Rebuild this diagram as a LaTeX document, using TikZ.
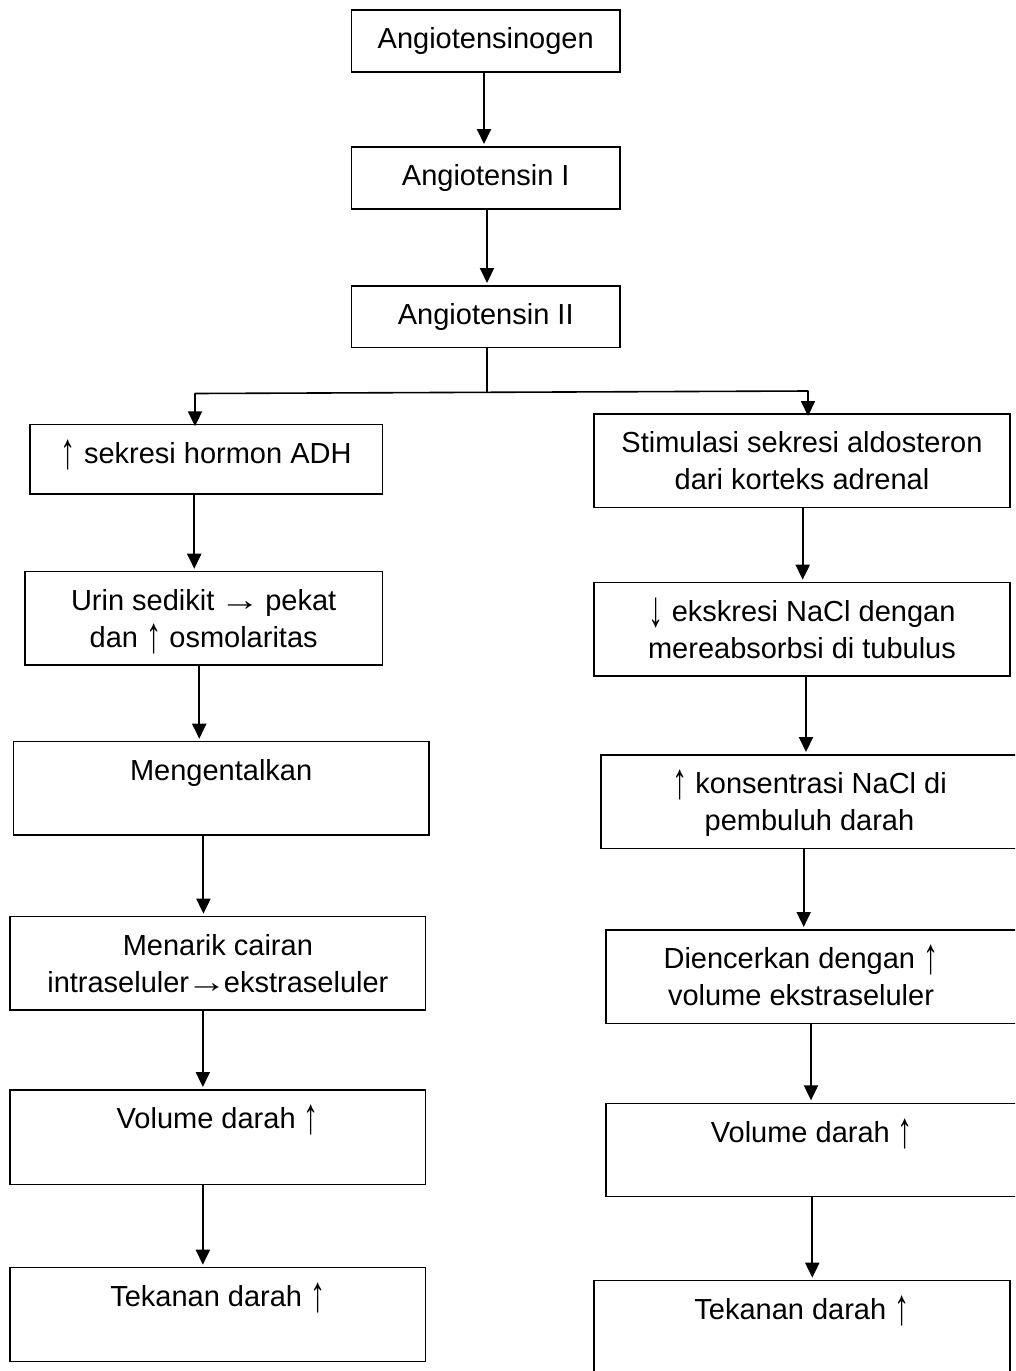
\documentclass[tikz,border=0pt]{standalone}
\usepackage{fontspec}
\usepackage{graphicx}
\setmainfont{Liberation Sans}
\usetikzlibrary{arrows.meta}
\newcommand\lh{\rule{0pt}{25pt}}
\newcommand\ua{\raisebox{-0.18em}{\scalebox{1.05}[1.75]{↑}}}
\newcommand\da{\raisebox{-0.18em}{\scalebox{1.05}[1.75]{↓}}}
\newcommand\ra{\kern-0.1em\scalebox{1.4}[1.05]{→}\kern-0.1em}
\begin{document}
\begin{tikzpicture}[x=1pt,y=-1pt,
  box/.style={draw=black, line width=1.3pt, rectangle, inner sep=0pt, outer sep=0pt},
  lbl/.style={anchor=north, yshift=-13.5pt, inner sep=0pt, align=center,
              font=\fontsize{29}{37}\selectfont},
  arr/.style={line width=2pt, -{Triangle[width=14pt,length=15pt]}, shorten >=3pt},
  link/.style={line width=1.6pt}]
\clip (0,0) rectangle (1015,1371);
\fill[white] (0,0) rectangle (1015,1371);
% boxes
\node[box, minimum width=268.5pt, minimum height=62pt, label={[lbl]north:{\lh Angiotensinogen}}] (b1) at (485.75,41) {};
\node[box, minimum width=268.5pt, minimum height=62pt, label={[lbl]north:{\lh Angiotensin I}}] (b2) at (485.75,178) {};
\node[box, minimum width=268.5pt, minimum height=61.3pt, label={[lbl]north:{\lh Angiotensin II}}] (b3) at (485.75,316.65) {};
\node[box, minimum width=352.3pt, minimum height=69.7pt, label={[lbl]north:{\lh \ua{} sekresi hormon ADH}}] (b4) at (206.15,459.15) {};
\node[box, minimum width=416pt, minimum height=93.3pt, label={[lbl]north:{\lh Stimulasi sekresi aldosteron\\dari korteks adrenal}}] (b5) at (802,460.65) {};
\node[box, minimum width=357.3pt, minimum height=93.3pt, label={[lbl]north:{\lh Urin sedikit \ra{} pekat\\dan \ua{} osmolaritas}}] (b6) at (203.65,618.35) {};
\node[box, minimum width=416pt, minimum height=93.3pt, label={[lbl]north:{\lh \da{} ekskresi NaCl dengan\\mereabsorbsi di tubulus}}] (b7) at (802,629.35) {};
\node[box, minimum width=415.7pt, minimum height=93.3pt, label={[lbl]north:{\lh Mengentalkan}}] (b8) at (221.15,788.35) {};
\node[box, minimum width=417pt, minimum height=93.3pt, label={[lbl]north:{\lh \ua{} konsentrasi NaCl di\\pembuluh darah}}] (b9) at (809.5,801.65) {};
\node[box, minimum width=415.7pt, minimum height=93.3pt, label={[lbl]north:{\lh Menarik cairan\\intraseluler\ra{}ekstraseluler}}] (b10) at (217.85,963.35) {};
\node[box, minimum width=412pt, minimum height=93.3pt, label={[lbl, xshift=-11pt]north:{\lh Diencerkan dengan \ua\\volume ekstraseluler}}] (b11) at (812,976.65) {};
\node[box, minimum width=415.7pt, minimum height=94.3pt, label={[lbl]north:{\lh Volume darah \ua}}] (b12) at (217.85,1137.15) {};
\node[box, minimum width=412pt, minimum height=93.3pt, label={[lbl]north:{\lh Volume darah \ua}}] (b13) at (812,1150) {};
\node[box, minimum width=415.7pt, minimum height=94pt, label={[lbl]north:{\lh Tekanan darah \ua}}] (b14) at (217.85,1314.7) {};
\node[box, minimum width=416pt, minimum height=99.3pt, label={[lbl]north:{\lh Tekanan darah \ua}}] (b15) at (802,1330.35) {};
% connector anchors
\coordinate (a1) at ([xshift=-1.75pt]b1.south);
\coordinate (a2) at ([xshift=1.25pt]b2.south);
\coordinate (a3) at ([xshift=1.25pt]b3.south);
\coordinate (jc) at (487,392);
\coordinate (jl) at (195,393.5);
\coordinate (jr) at (808,391);
\coordinate (a5) at ([xshift=-11.9pt]b4.south);
\coordinate (a6) at ([xshift=-4.4pt]b6.south);
\coordinate (a7) at ([xshift=-17.7pt]b8.south);
\coordinate (a8) at ([xshift=-15pt]b10.south);
\coordinate (a9) at ([xshift=-15pt]b12.south);
\coordinate (a10) at ([xshift=0.7pt]b5.south);
\coordinate (a11) at ([xshift=4pt]b7.south);
\coordinate (a12) at ([xshift=-5.8pt]b9.south);
\coordinate (a13) at ([xshift=-1pt]b11.south);
\coordinate (a14) at ([xshift=0.3pt]b13.south);
% connectors
\draw[arr] (a1) -- (a1 |- b2.north);
\draw[arr] (a2) -- (a2 |- b3.north);
\draw[link, line width=1.3pt] (a3) -- (a3 |- jc);
\draw[link, line cap=round] (jl) -- (jr);
\draw[arr, shorten >=-2pt] (jl) -- (jl |- b4.north);
\draw[arr, shorten >=-2pt] (jr) -- (jr |- b5.north);
\draw[arr] (a5) -- (a5 |- b6.north);
\draw[arr] (a6) -- (a6 |- b8.north);
\draw[arr] (a7) -- (a7 |- b10.north);
\draw[arr] (a8) -- (a8 |- b12.north);
\draw[arr] (a9) -- (a9 |- b14.north);
\draw[arr] (a10) -- (a10 |- b7.north);
\draw[arr] (a11) -- (a11 |- b9.north);
\draw[arr] (a12) -- (a12 |- b11.north);
\draw[arr] (a13) -- (a13 |- b13.north);
\draw[arr] (a14) -- (a14 |- b15.north);
\end{tikzpicture}
\end{document}
